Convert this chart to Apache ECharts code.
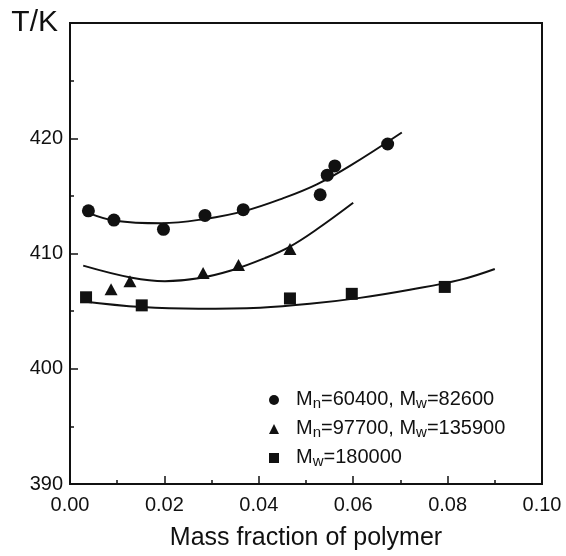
<!DOCTYPE html>
<html>
<head>
<meta charset="utf-8">
<script src="https://cdn.jsdelivr.net/npm/echarts@6/dist/echarts.min.js"></script>
<style>
html,body{margin:0;padding:0;background:#fff;}
#chart{width:566px;height:556px;}
</style>
</head>
<body>
<div id="chart"></div>
<script>
// ---- data ----
const seriesNames = ['Mn=60400, Mw=82600', 'Mn=97700, Mw=135900', 'Mw=180000'];
const legendRich = [
  '{g| }{a|M}{s|n}{a|=60400, M}{s|w}{a|=82600}',
  '{g| }{a|M}{s|n}{a|=97700, M}{s|w}{a|=135900}',
  '{g| }{a|M}{s|w}{a|=180000}'
];
const xTickValues = [0, 0.02, 0.04, 0.06, 0.08, 0.10];
const xTickLabels = ['0.00', '0.02', '0.04', '0.06', '0.08', '0.10'];
const yTickValues = [390, 400, 410, 420];
const yTickLabels = ['390', '400', '410', '420'];

const circles = [[0.0039,413.7],[0.0093,412.9],[0.0198,412.1],[0.0286,413.3],[0.0367,413.8],[0.0530,415.1],[0.0545,416.8],[0.0561,417.6],[0.0673,419.5]];
const triangles = [[0.0087,406.9],[0.0127,407.6],[0.0282,408.3],[0.0357,409.0],[0.0466,410.4]];
const squares = [[0.0034,406.2],[0.0152,405.5],[0.0466,406.1],[0.0597,406.5],[0.0794,407.1]];

const fitCircles = [[0.0040,413.5],[0.0095,412.85],[0.0194,412.63],[0.0286,413.0],[0.0371,413.7],[0.0452,414.8],[0.0523,416.0],[0.0593,417.6],[0.0703,420.5]];
const fitTriangles = [[0.0028,408.95],[0.0131,407.9],[0.0201,407.6],[0.0272,407.85],[0.0343,408.55],[0.0413,409.6],[0.0466,410.6],[0.0523,412.1],[0.0600,414.4]];
const fitSquares = [[0.0025,405.86],[0.0152,405.35],[0.0272,405.2],[0.0403,405.3],[0.0508,405.63],[0.0614,406.15],[0.0720,406.86],[0.0826,407.71],[0.0900,408.66]];

// ---- chart ----
const INK = '#111';
const FONT = '"Liberation Sans", Arial, sans-serif';
const chart = echarts.init(document.getElementById('chart'), null, {renderer: 'canvas'});

function lookup(vals, labels, v) {
  for (let i = 0; i < vals.length; i++) if (Math.abs(vals[i] - v) < 1e-9) return labels[i];
  return '';
}

const lineStyleFit = {color: INK, width: 2};

chart.setOption({
  backgroundColor: '#fff',
  animation: false,
  grid: {left: 70, right: 24, top: 23, bottom: 69, show: true, borderColor: INK, borderWidth: 2, backgroundColor: 'transparent'},
  xAxis: {
    type: 'value', min: 0, max: 0.1, interval: 0.02,
    name: 'Mass fraction of polymer', nameLocation: 'middle', nameGap: 42,
    nameTextStyle: {fontFamily: FONT, fontSize: 25, color: INK},
    axisLine: {show: true, lineStyle: {color: INK, width: 2}},
    axisTick: {show: true, inside: true, length: 8, lineStyle: {color: INK, width: 1.5}},
    minorTick: {show: true, splitNumber: 2, length: 4, lineStyle: {color: INK, width: 1.5}},
    splitLine: {show: false},
    axisLabel: {show: true, margin: 11, fontFamily: FONT, fontSize: 20, color: INK, showMinLabel: true, showMaxLabel: true,
      formatter: v => lookup(xTickValues, xTickLabels, v)}
  },
  yAxis: {
    type: 'value', min: 390, max: 430, interval: 10,
    name: 'T/K', nameLocation: 'end', nameGap: 0,
    nameTextStyle: {fontFamily: FONT, fontSize: 30, color: INK, align: 'right', verticalAlign: 'middle', padding: [8, 12, 0, 0]},
    axisLine: {show: true, lineStyle: {color: INK, width: 2}},
    axisTick: {show: true, inside: true, length: 8, lineStyle: {color: INK, width: 1.5}},
    minorTick: {show: true, splitNumber: 2, length: 4, lineStyle: {color: INK, width: 1.5}},
    splitLine: {show: false},
    axisLabel: {show: true, margin: 7, fontFamily: FONT, fontSize: 20, color: INK,
      formatter: v => lookup(yTickValues, yTickLabels, v)}
  },
  legend: {
    orient: 'vertical', left: 264, top: 384, itemGap: 7,
    itemWidth: 10, itemHeight: 10, symbolKeepAspect: true,
    data: [
      {name: seriesNames[0], icon: 'circle'},
      {name: seriesNames[1], icon: 'triangle'},
      {name: seriesNames[2], icon: 'rect'}
    ],
    formatter: name => legendRich[seriesNames.indexOf(name)],
    textStyle: {
      fontFamily: FONT, color: INK,
      rich: {
        g: {width: 12, fontSize: 20},
        a: {fontFamily: FONT, fontSize: 20, color: INK, verticalAlign: 'top'},
        s: {fontFamily: FONT, fontSize: 15, color: INK, verticalAlign: 'bottom', padding: [7, 0, 0, 0]}
      }
    }
  },
  series: [
    {type: 'line', data: fitCircles, smooth: 0.4, symbol: 'none', lineStyle: lineStyleFit, silent: true, z: 2},
    {type: 'line', data: fitTriangles, smooth: 0.4, symbol: 'none', lineStyle: lineStyleFit, silent: true, z: 2},
    {type: 'line', data: fitSquares, smooth: 0.4, symbol: 'none', lineStyle: lineStyleFit, silent: true, z: 2},
    {name: seriesNames[0], type: 'scatter', data: circles, symbol: 'circle', symbolSize: 13, itemStyle: {color: INK, opacity: 1}, z: 3},
    {name: seriesNames[1], type: 'scatter', data: triangles, symbol: 'triangle', symbolSize: [13, 12], itemStyle: {color: INK, opacity: 1}, z: 3},
    {name: seriesNames[2], type: 'scatter', data: squares, symbol: 'rect', symbolSize: 12, itemStyle: {color: INK, opacity: 1}, z: 3}
  ]
});
</script>
</body>
</html>
